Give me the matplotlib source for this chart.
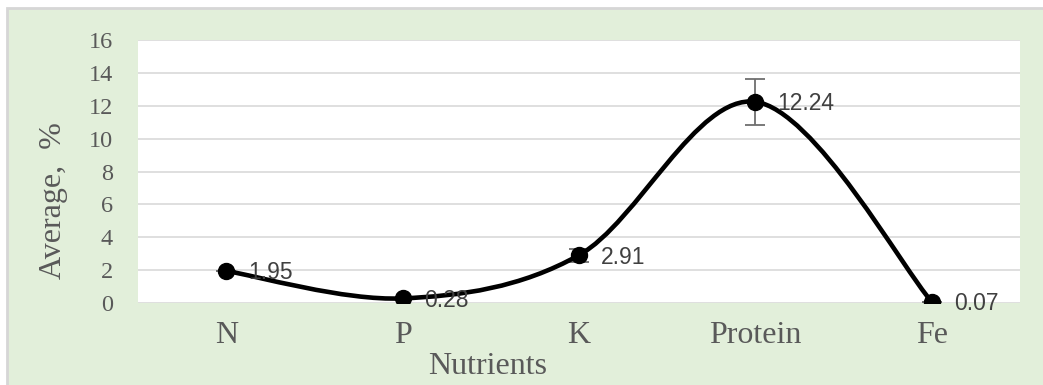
import matplotlib
matplotlib.use("Agg")
import matplotlib.pyplot as plt
from matplotlib.path import Path
from matplotlib.patches import PathPatch, Rectangle
import numpy as np

# data
nutrients = ["N", "P", "K", "Protein", "Fe"]
averages = [1.95, 0.28, 2.91, 12.24, 0.07]
errors = [0.0, 0.0, 0.4, 1.4, 0.0]
labels = ["1.95", "0.28", "2.91", "12.24", "0.07"]
yticks = [0, 2, 4, 6, 8, 10, 12, 14, 16]

W, H = 1043, 385
fig = plt.figure(figsize=(W / 100, H / 100), dpi=100, facecolor="white")

# green chart area with grey frame
fig.patches.append(Rectangle((7 / W, -0.1), 1.1, (H - 8) / H + 0.1, transform=fig.transFigure,
                             facecolor="#E2EFDA", edgecolor="#D6D6D6", linewidth=2, zorder=-10))

ax = fig.add_axes([138 / W, (H - 303) / H, 882 / W, 263 / H])
ax.set_facecolor("white")
ax.set_xlim(-0.5, 4.5)
ax.set_ylim(0, 16)
for s in ax.spines.values():
    s.set_visible(False)
ax.set_yticks(yticks)
ax.yaxis.grid(True, color="#D9D9D9", linewidth=1.2)
ax.set_axisbelow(True)
ax.tick_params(length=0)
ax.tick_params(axis="y", pad=18, labelsize=17.5, labelcolor="#595959")
ax.tick_params(axis="x", pad=13, labelsize=23, labelcolor="#595959")
ax.set_xticks(range(len(nutrients)))
ax.set_xticklabels(nutrients, family="Liberation Serif")
for t in ax.get_yticklabels():
    t.set_family("Liberation Serif")

# smoothed line (Excel style bezier)
x = np.arange(len(averages), dtype=float)
y = np.array(averages)
pts = np.column_stack([x, y])
ext = np.vstack([pts[0], pts, pts[-1]])
verts = [pts[0]]
codes = [Path.MOVETO]
for i in range(len(pts) - 1):
    p0, p1, p2, p3 = ext[i], ext[i + 1], ext[i + 2], ext[i + 3]
    c1 = p1 + (p2 - p0) / 6
    c2 = p2 - (p3 - p1) / 6
    verts += [c1, c2, p2]
    codes += [Path.CURVE4] * 3
ax.add_patch(PathPatch(Path(verts, codes), facecolor="none", edgecolor="black",
                       linewidth=3.3, zorder=3, capstyle="round"))

ax.errorbar(x, y, yerr=errors, fmt="none", ecolor="#6E6E6E", elinewidth=1.3,
            capsize=7, capthick=1.3, zorder=2)
ax.plot(x, y, "o", color="black", markersize=11.5, zorder=4)

for xi, yi, lab in zip(x, y, labels):
    ax.annotate(lab, (xi, yi), xytext=(22, -2), textcoords="offset pixels",
                ha="left", va="center", fontsize=16.5, color="#404040",
                family="Liberation Sans", zorder=5)

ax.set_ylabel("Average,  %", family="Liberation Serif", fontsize=23,
              color="#595959")
ax.yaxis.set_label_coords(-(138 - 53) / 882, (303 - 201) / 263)
ax.yaxis.label.set_va("center")
ax.set_xlabel("Nutrients", family="Liberation Serif", fontsize=23,
              color="#595959")
ax.xaxis.set_label_coords((488 - 138) / 882, -(367 - 303) / 263)
ax.xaxis.label.set_va("center")

fig.savefig("out.png", dpi=100)
